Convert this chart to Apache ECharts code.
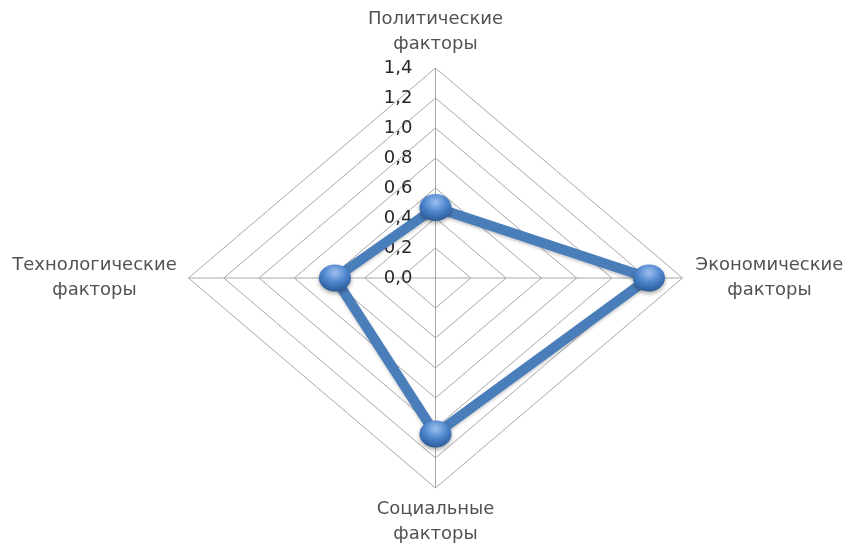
<!DOCTYPE html>
<html>
<head>
<meta charset="utf-8">
<script src="https://cdn.jsdelivr.net/npm/echarts@6/dist/echarts.min.js"></script>
<style>
  html, body { margin: 0; padding: 0; background: #fff; }
  #chart { width: 847px; height: 543px; }
</style>
</head>
<body>
<div id="chart"></div>
<script>
// Radar data (drawn on value axes so the diamond can be wider than tall)
const categories = ['Политические\nфакторы', 'Экономические\nфакторы', 'Социальные\nфакторы', 'Технологические\nфакторы']
const values = [0.47, 1.21, 1.04, 0.57]
const tickValues = [0, 0.2, 0.4, 0.6, 0.8, 1.0, 1.2, 1.4]
const maxValue = 1.4

// direction of each spoke: top, right, bottom, left
const dirs = [[0, 1], [1, 0], [0, -1], [-1, 0]]
const toXY = (v, i) => [dirs[i][0] * v, dirs[i][1] * v]

const chart = echarts.init(document.getElementById('chart'))

const gridColor = '#a8a8a8'
const textColor = '#262626'
const fontFamily = '"DejaVu Sans", sans-serif'

// rings for every tick above zero
const ringSeries = tickValues.filter(v => v > 0).map(v => ({
  type: 'line',
  silent: true,
  showSymbol: false,
  animation: false,
  lineStyle: { color: gridColor, width: 1 },
  data: [0, 1, 2, 3, 0].map(i => toXY(v, i)),
  z: 1
}))

const spokeSeries = dirs.map((d, i) => ({
  type: 'line',
  silent: true,
  showSymbol: false,
  animation: false,
  lineStyle: { color: gridColor, width: 1 },
  data: [[0, 0], toXY(maxValue, i)],
  z: 1
}))

const labelPos = [
  { position: 'top', distance: 11, offset: [0, 0] },
  { position: 'right', distance: 0, offset: [87, 0] },
  { position: 'bottom', distance: 9, offset: [0, 0] },
  { position: 'left', distance: 0, offset: [-94, 0] }
]

const nameSeries = {
  type: 'scatter',
  silent: true,
  symbolSize: 0,
  animation: false,
  data: categories.map((c, i) => ({
    value: toXY(maxValue, i),
    name: c,
    label: {
      show: true,
      formatter: '{b}',
      position: labelPos[i].position,
      distance: labelPos[i].distance,
      align: 'center',
      offset: labelPos[i].offset,
      color: textColor,
      fontFamily,
      fontSize: 18,
      lineHeight: 25
    }
  })),
  z: 3
}

const ball = {
  type: 'radial', x: 0.5, y: 0.3, r: 0.75,
  colorStops: [
    { offset: 0, color: '#9cc0ee' },
    { offset: 0.5, color: '#4c83cc' },
    { offset: 1, color: '#24558f' }
  ]
}

const dataPoints = values.map((v, i) => toXY(v, i))
const dataSeries = {
  type: 'line',
  name: 'Факторы',
  data: [...dataPoints, { value: dataPoints[0], symbol: 'none' }],
  symbol: 'circle',
  symbolSize: [32, 27],
  lineStyle: {
    color: '#4a7ebb',
    width: 10,
    shadowColor: 'rgba(0, 0, 0, 0.2)',
    shadowBlur: 3,
    shadowOffsetY: 2
  },
  itemStyle: {
    color: ball,
    borderWidth: 0,
    shadowColor: 'rgba(0, 0, 0, 0.35)',
    shadowBlur: 4,
    shadowOffsetY: 2
  },
  animation: false,
  z: 5
}

const option = {
  backgroundColor: '#ffffff',
  grid: {
    left: 188.5,
    top: 68,
    width: 494,
    height: 420,
    containLabel: false,
    outerBoundsMode: 'none'
  },
  xAxis: {
    type: 'value',
    min: -maxValue,
    max: maxValue,
    axisLine: { show: false },
    axisTick: { show: false },
    axisLabel: { show: false },
    splitLine: { show: false }
  },
  yAxis: {
    type: 'value',
    position: 'left',
    offset: -247,
    min: -maxValue,
    max: maxValue,
    interval: 0.2,
    axisLine: { show: false },
    axisTick: { show: false },
    splitLine: { show: false },
    axisLabel: {
      margin: 23,
      color: textColor,
      fontFamily,
      fontSize: 18,
      formatter: v => (v < -1e-9 ? '' : Math.abs(v).toFixed(1).replace('.', ','))
    },
    z: 4
  },
  series: [...ringSeries, ...spokeSeries, nameSeries, dataSeries]
}

chart.setOption(option)
</script>
</body>
</html>
